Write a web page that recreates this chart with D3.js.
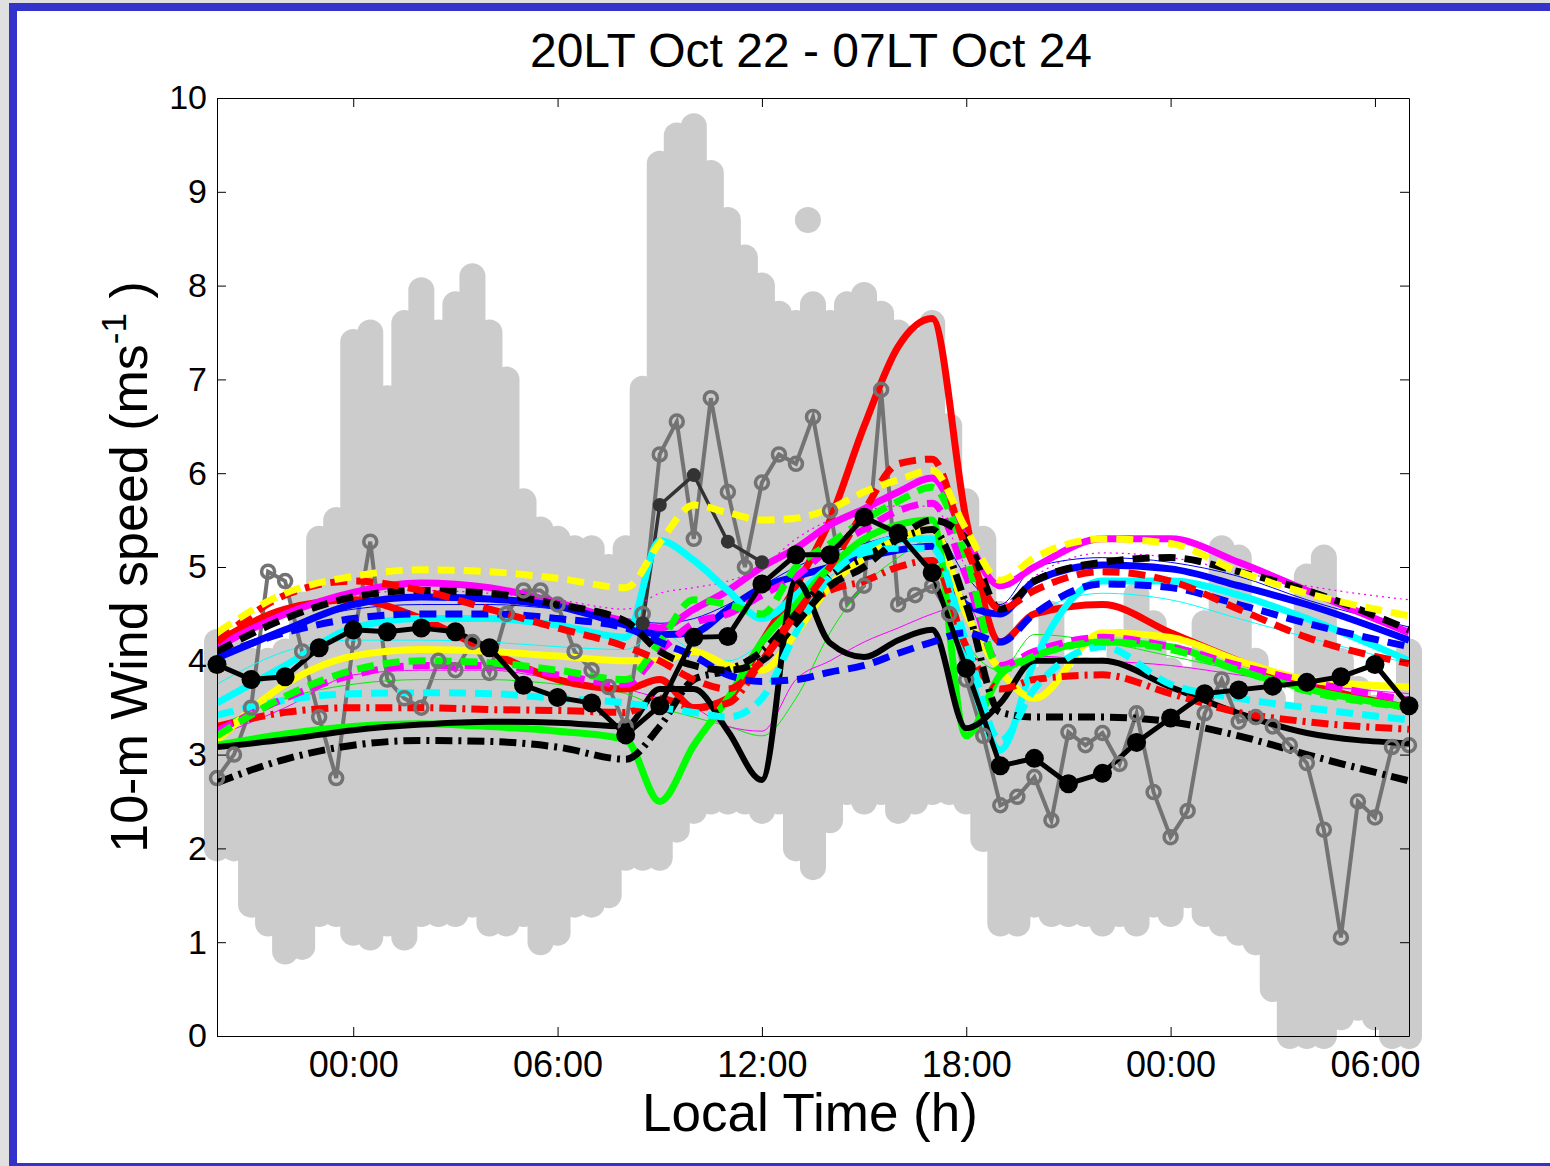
<!DOCTYPE html>
<html>
<head>
<meta charset="utf-8">
<script src="https://cdn.jsdelivr.net/npm/d3@7"></script>
<style>
body { margin: 0; background: #e0e0e0; }
svg { display: block; font-family: "Liberation Sans", Arial, sans-serif; }
</style>
</head>
<body>
<svg width="1550" height="1166"></svg>
<script>
// hours counted from 00LT Oct 22
var tickHours = [24, 30, 36, 42, 48, 54];
var tickLabels = ["00:00", "06:00", "12:00", "18:00", "00:00", "06:00"];

// half-hourly grid of the station observations
var halfHours = d3.range(20, 55.01, 0.5);

// spread of all station observations (light grey blobs), low / high
var cloudLow = [2.0, 2.0, 1.4, 1.2, 0.9, 0.95, 1.3, 1.3, 1.1, 1.05, 1.2, 1.05, 1.3, 1.3, 1.3, 1.4, 1.2, 1.2,
  1.3, 1.0, 1.1, 1.4, 1.4, 1.5, 1.9, 1.9, 1.9, 2.2, 2.4, 2.5, 2.5, 2.5, 2.4, 2.5, 2.0, 1.8,
  2.3, 2.6, 2.5, 2.6, 2.4, 2.5, 2.6, 2.6, 2.5, 2.1, 1.2, 1.2, 1.4, 1.3, 1.3, 1.3, 1.2, 1.3,
  1.2, 1.4, 1.3, 1.5, 1.3, 1.2, 1.1, 1.0, 0.5, 0.0, 0.0, 0.0, 0.2, 0.3, 0.2, 0.0, 0.0];
var cloudHigh = [4.2, 4.1, 4.0, 4.0, 4.1, 4.6, 5.3, 5.5, 7.4, 7.5, 6.8, 7.6, 7.95, 7.5, 7.8, 8.1, 7.5, 7.0,
  5.7, 5.4, 5.3, 5.2, 5.2, 5.0, 5.2, 6.9, 9.3, 9.6, 9.7, 9.2, 8.7, 8.3, 8.0, 7.7, 7.6, 7.8,
  7.6, 7.8, 7.9, 7.7, 7.5, 7.4, 7.6, 6.5, 5.7, 5.3, 4.5, 3.9, 3.8, 4.5, 3.8, 3.9, 3.9, 4.2,
  4.7, 4.4, 3.9, 3.8, 4.4, 5.2, 5.1, 4.0, 3.6, 3.4, 4.9, 5.1, 4.0, 3.7, 3.5, 3.5, 4.1];
var cloudExtraHours = [37.35];
var cloudExtra = [8.7];

// single station, half-hourly (dark grey, open circles)
var obsStation = [2.75, 3.0, 3.5, 4.95, 4.85, 4.1, 3.4, 2.75, 4.2, 5.27, 3.8, 3.6, 3.5, 4.0, 3.9, 4.2, 3.87, 4.5,
  4.75, 4.75, 4.6, 4.1, 3.9, 3.72, 3.3, 4.5, 6.2, 6.55, 5.3, 6.8, 5.8, 5.0, 5.9, 6.2, 6.1, 6.6,
  5.6, 4.6, 4.8, 6.89, 4.6, 4.7, 4.8, 4.5, 3.8, 3.2, 2.46, 2.55, 2.76, 2.3, 3.24, 3.1, 3.23, 2.9,
  3.44, 2.6, 2.12, 2.4, 3.44, 3.8, 3.35, 3.4, 3.3, 3.1, 2.91, 2.2, 1.05, 2.5, 2.33, 3.08, 3.1];

// hourly station mean in daytime (thin dark line)
var dayMeanHours = [32.5, 33, 34, 35, 36];
var dayMean = [4.4, 5.66, 5.98, 5.27, 5.05];

// hourly mean of all stations (black, filled circles)
var obsHours = d3.range(20, 56, 1);
var obsMean = [3.96, 3.8, 3.83, 4.14, 4.33, 4.31, 4.35, 4.31, 4.14, 3.74, 3.61, 3.55, 3.21, 3.52, 4.25, 4.26,
  4.82, 5.13, 5.13, 5.53, 5.36, 4.94, 3.92, 2.88, 2.96, 2.69, 2.80, 3.13, 3.39, 3.65, 3.69, 3.73,
  3.77, 3.83, 3.96, 3.52];

// model runs
var modelHours = [20, 22, 24, 26, 28, 30, 32, 33, 34, 35, 36, 37, 38, 39, 40, 41, 42, 43, 44, 46, 48, 50, 52, 55];
var cyanThin = [3.75, 4.1, 4.22, 4.22, 4.2, 4.15, 4.12, 4.3, 4.1, 4.0, 4.2, 4.6, 4.9, 5.1, 5.25, 5.3, 4.5, 4.2, 4.5, 4.72, 4.65, 4.45, 4.25, 3.97];
var magentaDot = [4.1, 4.5, 4.7, 4.75, 4.72, 4.65, 4.55, 4.72, 4.78, 4.85, 5.0, 5.3, 5.5, 5.6, 5.65, 5.65, 5.0, 4.6, 4.9, 5.15, 5.1, 4.95, 4.8, 4.65];
var greenThin = [3.3, 3.6, 3.75, 3.8, 3.8, 3.75, 3.65, 3.5, 3.4, 3.3, 3.2, 3.6, 4.3, 4.8, 5.1, 5.3, 4.2, 3.9, 4.28, 4.2, 4.05, 3.9, 3.8, 3.72];
var magentaThin = [3.2, 3.5, 3.85, 3.9, 3.9, 3.8, 3.7, 3.6, 3.5, 3.3, 3.25, 3.8, 4.0, 4.2, 4.35, 4.5, 4.6, 3.9, 4.05, 4.0, 3.95, 3.85, 3.75, 3.65];
var blueThin = [4.0, 4.35, 4.55, 4.6, 4.6, 4.55, 4.45, 4.4, 4.45, 4.6, 4.8, 5.0, 5.15, 5.25, 5.35, 5.4, 4.9, 4.6, 5.0, 5.1, 5.05, 4.9, 4.65, 4.36];
var redSolid = [4.2, 4.55, 4.65, 4.45, 4.1, 3.8, 3.7, 3.8, 3.5, 3.6, 4.2, 4.8, 5.5, 6.5, 7.35, 7.65, 5.5, 4.2, 4.5, 4.6, 4.3, 4.0, 3.75, 3.5];
var magentaSolid = [4.15, 4.5, 4.73, 4.83, 4.78, 4.62, 4.42, 4.35, 4.55, 4.75, 5.0, 5.2, 5.45, 5.62, 5.8, 5.95, 5.3, 4.8, 5.0, 5.3, 5.3, 5.05, 4.75, 4.3];
var blueSolid = [4.03, 4.33, 4.6, 4.68, 4.66, 4.58, 4.38, 4.28, 4.3, 4.55, 4.78, 4.9, 5.0, 5.1, 5.18, 5.22, 4.6, 4.5, 4.85, 5.02, 4.98, 4.8, 4.6, 4.22];
var cyanSolid = [3.55, 3.95, 4.35, 4.45, 4.45, 4.38, 4.25, 5.28, 5.07, 4.75, 4.45, 4.7, 5.0, 5.2, 5.3, 5.3, 4.0, 3.05, 4.0, 4.85, 4.85, 4.7, 4.45, 4.0];
var yellowSolid = [3.15, 3.75, 4.05, 4.12, 4.1, 4.05, 4.0, 4.0, 4.1, 3.95, 3.9, 4.3, 4.8, 5.1, 5.3, 5.4, 4.5, 3.9, 3.6, 4.3, 4.25, 4.0, 3.8, 3.72];
var greenSolid = [3.1, 3.22, 3.3, 3.33, 3.3, 3.25, 3.16, 2.5, 3.1, 3.6, 4.2, 4.6, 5.0, 5.3, 5.45, 5.5, 3.2, 3.85, 4.05, 4.2, 4.15, 3.9, 3.7, 3.5];
var blackSolid = [3.08, 3.16, 3.26, 3.32, 3.35, 3.34, 3.3, 3.7, 3.7, 3.25, 2.73, 4.86, 4.19, 4.04, 4.22, 4.33, 3.28, 3.55, 4.0, 4.0, 3.72, 3.44, 3.23, 3.12];
var redDashDot = [3.3, 3.45, 3.5, 3.5, 3.48, 3.47, 3.45, 3.6, 3.5, 3.55, 4.0, 4.5, 4.75, 4.85, 5.0, 5.07, 4.15, 3.7, 3.8, 3.85, 3.65, 3.45, 3.35, 3.27];
var blackDashDot = [2.7, 2.95, 3.1, 3.15, 3.14, 3.08, 2.95, 3.3, 3.8, 3.9, 4.1, 4.5, 4.9, 5.1, 5.3, 5.4, 4.6, 3.45, 3.4, 3.4, 3.35, 3.2, 3.0, 2.72];
var cyanDash = [3.42, 3.58, 3.65, 3.66, 3.65, 3.6, 3.55, 3.5, 3.45, 3.4, 3.6, 4.3, 4.9, 5.15, 5.2, 5.2, 4.2, 3.15, 3.7, 4.15, 3.75, 3.6, 3.5, 3.37];
var magentaDash = [3.25, 3.6, 3.85, 3.95, 3.95, 3.85, 3.75, 4.1, 4.4, 4.5, 4.7, 4.9, 5.2, 5.4, 5.6, 5.68, 4.9, 3.95, 4.1, 4.25, 4.15, 3.95, 3.78, 3.58];
var greenDash = [3.2, 3.62, 3.9, 4.0, 3.98, 3.9, 3.8, 4.2, 4.65, 4.6, 4.5, 5.0, 5.25, 5.5, 5.7, 5.85, 5.1, 3.9, 4.05, 4.2, 4.12, 3.9, 3.68, 3.5];
var blueDash = [4.05, 4.3, 4.45, 4.5, 4.5, 4.45, 4.35, 4.2, 4.05, 3.85, 3.78, 3.8, 3.88, 3.95, 4.08, 4.2, 4.3, 4.2, 4.5, 4.82, 4.78, 4.6, 4.4, 4.15];
var blackDash = [4.1, 4.45, 4.68, 4.75, 4.72, 4.6, 4.42, 4.1, 3.95, 3.9, 4.0, 4.4, 4.8, 5.0, 5.3, 5.5, 5.3, 4.55, 4.85, 5.05, 5.1, 4.95, 4.75, 4.33];
var redDash = [4.2, 4.7, 4.85, 4.75, 4.55, 4.35, 4.15, 4.0, 3.8, 3.7, 4.0, 4.5, 5.0, 5.6, 6.1, 6.15, 5.2, 4.55, 4.75, 4.95, 4.85, 4.55, 4.25, 3.97];
var yellowDash = [4.3, 4.72, 4.9, 4.97, 4.95, 4.88, 4.78, 5.26, 5.66, 5.58, 5.5, 5.52, 5.62, 5.8, 5.93, 6.03, 5.4, 4.86, 5.1, 5.3, 5.25, 4.95, 4.72, 4.48];

var models = [
  {v: cyanThin, c: "#00ffff", w: 1, d: null},
  {v: magentaDot, c: "#ff00ff", w: 1.2, d: "2,4"},
  {v: greenThin, c: "#00ee00", w: 1, d: null},
  {v: magentaThin, c: "#ff00ff", w: 1, d: null},
  {v: blueThin, c: "#0000ff", w: 1, d: null},
  {v: redSolid, c: "#ff0000", w: 7, d: null},
  {v: magentaSolid, c: "#ff00ff", w: 7, d: null},
  {v: blueSolid, c: "#0000ff", w: 7, d: null},
  {v: cyanSolid, c: "#00ffff", w: 7, d: null},
  {v: yellowSolid, c: "#ffff00", w: 7, d: null},
  {v: greenSolid, c: "#00ff00", w: 7, d: null},
  {v: blackSolid, c: "#000000", w: 6, d: null},
  {v: redDashDot, c: "#ff0000", w: 7, d: "17,6,3,6"},
  {v: blackDashDot, c: "#000000", w: 7, d: "17,6,3,6"},
  {v: cyanDash, c: "#00ffff", w: 7, d: "17,9"},
  {v: magentaDash, c: "#ff00ff", w: 7, d: "17,9"},
  {v: greenDash, c: "#00ff00", w: 7, d: "17,9"},
  {v: blueDash, c: "#0000ff", w: 7, d: "17,9"},
  {v: blackDash, c: "#000000", w: 7, d: "17,9"},
  {v: redDash, c: "#ff0000", w: 7, d: "17,9"},
  {v: yellowDash, c: "#ffff00", w: 7, d: "17,9"}
];

var plotLeft = 217, plotRight = 1409, plotTop = 98, plotBottom = 1036;
var svg = d3.select("svg");

svg.append("rect").attr("width", 1550).attr("height", 1166).attr("fill", "#e0e0e0");
svg.append("rect").attr("x", 9).attr("y", 3).attr("width", 1560).attr("height", 1170).attr("fill", "#3333cc");
svg.append("rect").attr("x", 17).attr("y", 11).attr("width", 1560).attr("height", 1152).attr("fill", "#ffffff");

var x = d3.scaleLinear().domain([20, 55]).range([plotLeft, plotRight]);
var y = d3.scaleLinear().domain([0, 10]).range([plotBottom, plotTop]);

svg.append("clipPath").attr("id", "plot")
  .append("rect").attr("x", plotLeft).attr("y", plotTop)
  .attr("width", plotRight - plotLeft).attr("height", plotBottom - plotTop);

// grey blobs
var gCloud = svg.append("g");
gCloud.selectAll("line")
  .data(halfHours)
  .enter().append("line")
  .attr("x1", function(d) { return x(d); })
  .attr("x2", function(d) { return x(d); })
  .attr("y1", function(d, i) { return y(cloudLow[i]); })
  .attr("y2", function(d, i) { return y(cloudHigh[i]); })
  .attr("stroke", "#cccccc")
  .attr("stroke-width", 26)
  .attr("stroke-linecap", "round");
gCloud.selectAll("circle")
  .data(cloudExtraHours)
  .enter().append("circle")
  .attr("cx", function(d) { return x(d); })
  .attr("cy", function(d, i) { return y(cloudExtra[i]); })
  .attr("r", 13)
  .attr("fill", "#cccccc");

var gPlot = svg.append("g").attr("clip-path", "url(#plot)");

// single station
var lineStraight = d3.line()
  .x(function(d) { return x(d[0]); })
  .y(function(d) { return y(d[1]); });

gPlot.append("path")
  .datum(halfHours.map(function(h, i) { return [h, obsStation[i]]; }))
  .attr("d", lineStraight)
  .attr("fill", "none")
  .attr("stroke", "#737373")
  .attr("stroke-width", 4);
svg.append("g").selectAll("circle")
  .data(halfHours)
  .enter().append("circle")
  .attr("cx", function(d) { return x(d); })
  .attr("cy", function(d, i) { return y(obsStation[i]); })
  .attr("r", 6.5)
  .attr("fill", "none")
  .attr("stroke", "#737373")
  .attr("stroke-width", 3.5);

gPlot.append("path")
  .datum(dayMeanHours.map(function(h, i) { return [h, dayMean[i]]; }))
  .attr("d", lineStraight)
  .attr("fill", "none")
  .attr("stroke", "#333333")
  .attr("stroke-width", 3.5);
svg.append("g").selectAll("circle")
  .data(dayMeanHours)
  .enter().append("circle")
  .attr("cx", function(d) { return x(d); })
  .attr("cy", function(d, i) { return y(dayMean[i]); })
  .attr("r", 7)
  .attr("fill", "#333333");

// models
var lineSmooth = d3.line()
  .x(function(d, i) { return x(modelHours[i]); })
  .y(function(d) { return y(d); })
  .curve(d3.curveMonotoneX);

gPlot.selectAll("path.model")
  .data(models)
  .enter().append("path")
  .attr("class", "model")
  .attr("d", function(m) { return lineSmooth(m.v); })
  .attr("fill", "none")
  .attr("stroke", function(m) { return m.c; })
  .attr("stroke-width", function(m) { return m.w; })
  .attr("stroke-dasharray", function(m) { return m.d; });

// hourly mean of the stations
gPlot.append("path")
  .datum(obsHours.map(function(h, i) { return [h, obsMean[i]]; }))
  .attr("d", lineStraight)
  .attr("fill", "none")
  .attr("stroke", "#000000")
  .attr("stroke-width", 5);
svg.append("g").selectAll("circle")
  .data(obsHours)
  .enter().append("circle")
  .attr("cx", function(d) { return x(d); })
  .attr("cy", function(d, i) { return y(obsMean[i]); })
  .attr("r", 9.5)
  .attr("fill", "#000000");

// axes
function styleAxis(size) {
  return function(g) {
    g.selectAll("path").attr("stroke", "#000");
    g.selectAll("line").attr("stroke", "#000");
    g.selectAll("text").attr("font-size", size).attr("fill", "#000")
      .attr("font-family", "'Liberation Sans', Arial, sans-serif");
  };
}

svg.append("g")
  .attr("transform", "translate(0," + plotBottom + ")")
  .call(d3.axisBottom(x).tickValues(tickHours)
    .tickFormat(function(d, i) { return tickLabels[i]; })
    .tickSizeInner(-9).tickSizeOuter(0).tickPadding(15))
  .call(styleAxis(36));
svg.append("g")
  .attr("transform", "translate(0," + plotTop + ")")
  .call(d3.axisTop(x).tickValues(tickHours).tickFormat("")
    .tickSizeInner(-9).tickSizeOuter(0))
  .call(styleAxis(34));
svg.append("g")
  .attr("transform", "translate(" + plotLeft + ",0)")
  .call(d3.axisLeft(y).tickValues(d3.range(0, 11))
    .tickSizeInner(-9).tickSizeOuter(0).tickPadding(10))
  .call(styleAxis(34));
svg.append("g")
  .attr("transform", "translate(" + plotRight + ",0)")
  .call(d3.axisRight(y).tickValues(d3.range(0, 11)).tickFormat("")
    .tickSizeInner(-9).tickSizeOuter(0))
  .call(styleAxis(34));

// texts
svg.append("text")
  .attr("x", 811).attr("y", 67)
  .attr("text-anchor", "middle")
  .attr("font-size", 48)
  .text("20LT Oct 22 - 07LT Oct 24");

svg.append("text")
  .attr("x", 810).attr("y", 1131)
  .attr("text-anchor", "middle")
  .attr("font-size", 53)
  .text("Local Time (h)");

var yLab = svg.append("text")
  .attr("transform", "translate(147,567) rotate(-90)")
  .attr("text-anchor", "middle")
  .attr("font-size", 52);
yLab.append("tspan").text("10-m Wind speed (ms");
yLab.append("tspan").attr("font-size", 35).attr("dy", -21).text("-1");
yLab.append("tspan").attr("dy", 21).text(" )");
</script>
</body>
</html>
